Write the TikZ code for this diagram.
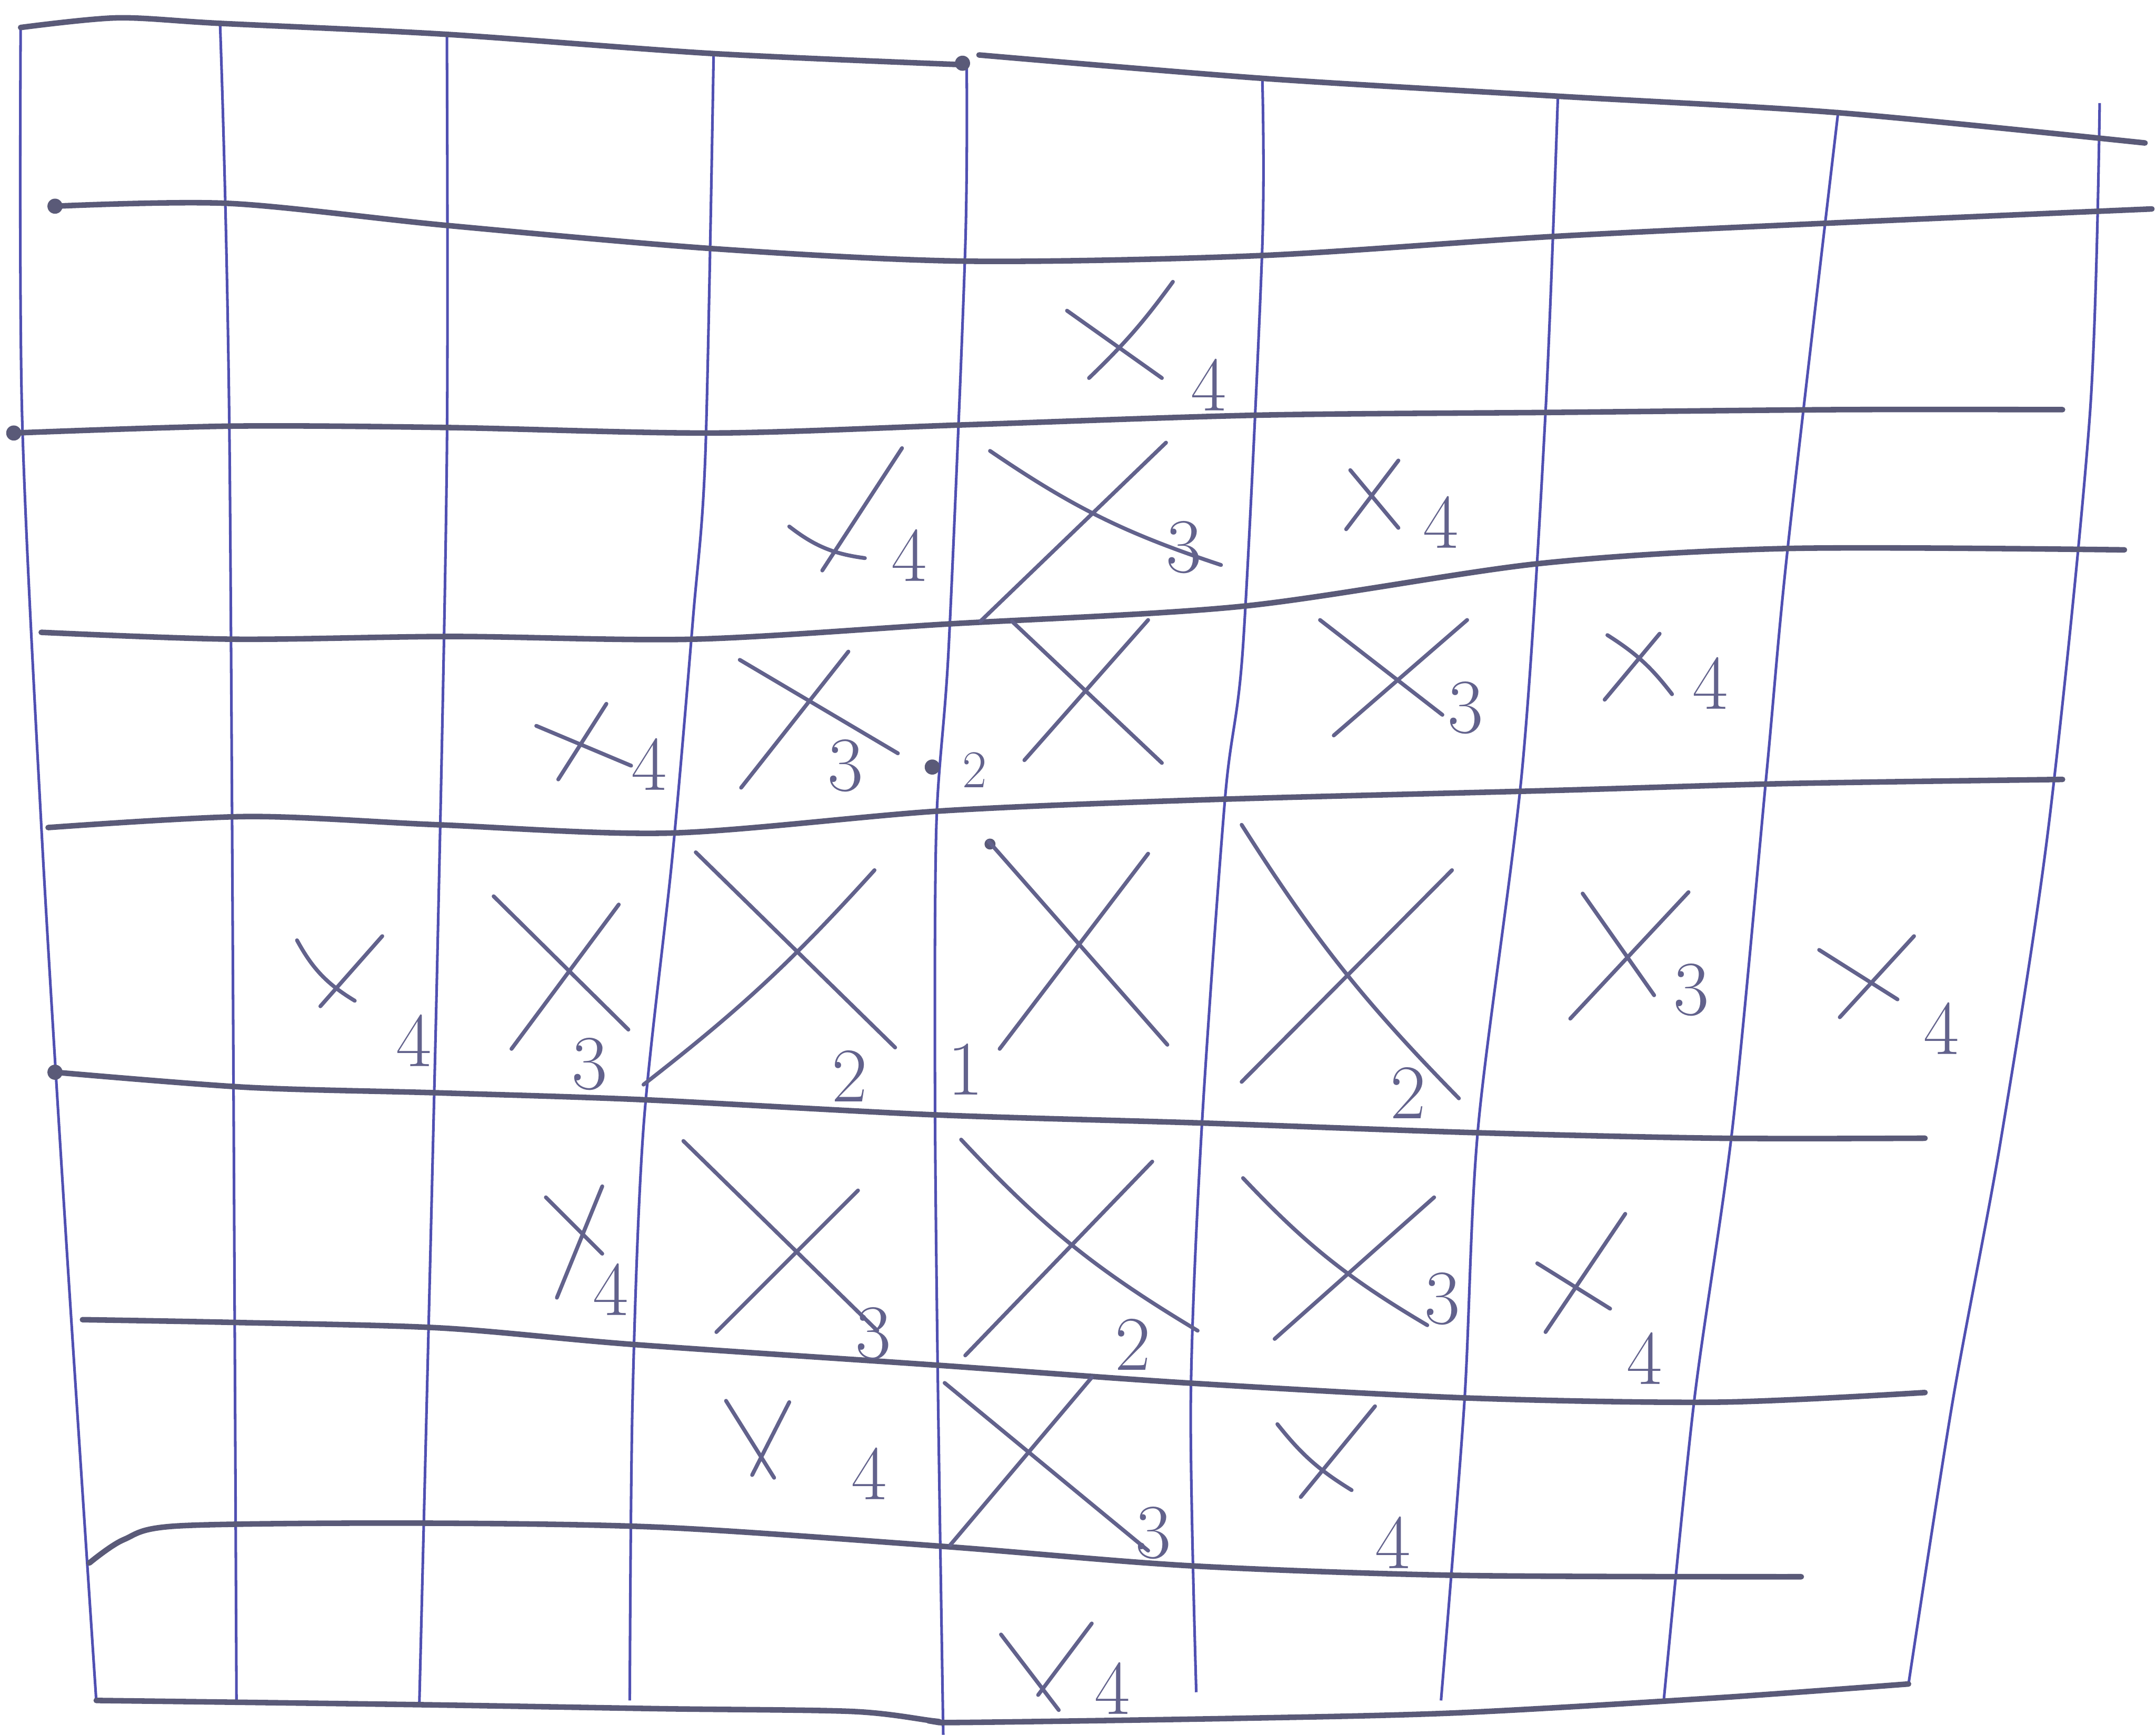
\documentclass[tikz,border=0pt]{standalone}
\usepackage{tikz}
\definecolor{gridblue}{HTML}{5050B2}
\definecolor{rowgrey}{HTML}{5A5A78}
\definecolor{crossink}{HTML}{62628C}

\begin{document}
\begin{tikzpicture}[x=0.2mm,y=-0.2mm,
  vline/.style={draw=gridblue,line width=1.1pt},
  hline/.style={draw=rowgrey,line width=2.3pt,line cap=round},
  cross/.style={draw=crossink,line width=1.6pt,line cap=round},
  lbl/.style={text=crossink,font=\fontsize{32}{32}\selectfont,inner sep=0pt},
  small/.style={lbl,font=\fontsize{22}{22}\selectfont},
  pdot/.style={fill=rowgrey,circle,inner sep=0pt,minimum size=2.2mm}]

  \fill[white] (0,0) rectangle (1568,1262);
  \useasboundingbox (0,0) rectangle (1568,1262);

  % columns
  \draw[vline] plot[smooth] coordinates {(15,20) (16,300) (30,600) (48,900) (70,1237)};
  \draw[vline] plot[smooth] coordinates {(160,16) (167,330) (172,1240)};
  \draw[vline] plot[smooth] coordinates {(325,24) (325,330) (318,700) (305,1238)};
  \draw[vline] plot[smooth] coordinates {(519,39) (513,330) (504,450) (489,623) (468,820) (460,1020) (458,1237)};
  \draw[vline] plot[smooth] coordinates {(703,45) (702,180) (690,470) (681,600) (680,800) (682,1000) (686,1262)};
  \draw[vline] plot[smooth] coordinates {(918,56) (918,180) (904,470) (891,580) (874,820) (866,1020) (870,1231)};
  \draw[vline] plot[smooth] coordinates {(1133,70) (1124,300) (1107,560) (1075,820) (1065,1020) (1048,1237)};
  \draw[vline] plot[smooth] coordinates {(1337,80) (1300,400) (1285,560) (1260,820) (1232,1020) (1210,1237)};
  \draw[vline] plot[smooth] coordinates {(1527,75) (1520,300) (1490,600) (1455,830) (1420,1020) (1388,1225)};

  % rows
  \draw[hline] plot[smooth] coordinates {(15,20) (85,13) (160,17) (325,25) (519,39) (698,47)};
  \draw[hline] plot[smooth] coordinates {(712,40) (918,57) (1133,70) (1337,82) (1560,104)};
  \draw[hline] plot[smooth] coordinates {(40,150) (167,148) (325,164) (520,181) (703,190) (915,186) (1130,172) (1337,162) (1565,152)};
  \draw[hline] plot[smooth] coordinates {(10,315) (167,310) (325,311) (519,315) (703,309) (916,302) (1130,300) (1337,298) (1500,298)};
  \draw[hline] plot[smooth] coordinates {(30,460) (170,465) (330,463) (504,465) (688,454) (904,441) (1119,410) (1300,399) (1545,400)};
  \draw[hline] plot[smooth] coordinates {(35,602) (180,594) (319,600) (488,606) (683,590) (870,582) (1130,575) (1300,570) (1500,567)};
  \draw[hline] plot[smooth] coordinates {(40,780) (180,791) (319,795) (468,800) (680,811) (876,817) (1074,824) (1250,828) (1400,828)};
  \draw[hline] plot[smooth] coordinates {(60,960) (170,962) (320,966) (460,978) (680,993) (863,1006) (1068,1017) (1250,1020) (1400,1013)};
  \draw[hline] plot[smooth] coordinates {(65,1137) (90,1120) (130,1110) (300,1108) (480,1111) (687,1125) (865,1139) (1060,1146) (1310,1147)};
  \draw[hline] plot[smooth] coordinates {(70,1237) (300,1240) (480,1243) (620,1245) (680,1252) (700,1253) (900,1250) (1060,1246) (1250,1235) (1388,1225)};

  \node[pdot] (d1) at (40,150) {};
  \node[pdot] (d2) at (10,315) {};
  \node[pdot] (d3) at (40,780) {};
  \node[pdot] (d4) at (700,46) {};
  \node[pdot] (d5) at (678,558) {};
  \node[pdot,minimum size=1.6mm] (d6) at (720,614) {};

  % crosses
  \draw[cross] (776,226) -- (845,275) (853,205) to[bend left=5] (792,275);
  \draw[cross] (656,326) -- (598,415) (574,383) to[bend right=15] (629,406);
  \draw[cross] (720,328) to[bend right=8] (888,411) (848,322) -- (713,452);
  \draw[cross] (1017,335) -- (979,385) (982,342) -- (1017,384);
  \draw[cross] (441,512) -- (406,567) (390,528) -- (459,557);
  \draw[cross] (538,480) -- (653,548) (617,474) -- (539,573);
  \draw[cross] (736,452) -- (845,555) (835,451) -- (745,553);
  \draw[cross] (960,451) -- (1049,520) (1067,451) -- (970,535);
  \draw[cross] (1169,462) to[bend left=10] (1216,505) (1207,461) -- (1167,509);
  \draw[cross] (216,684) to[bend right=15] (258,728) (278,681) -- (233,732);
  \draw[cross] (359,652) -- (457,749) (450,658) -- (372,763);
  \draw[cross] (506,620) -- (651,762) (636,633) to[bend left=5] (468,789);
  \draw[cross] (719,612) -- (849,760) (835,621) -- (727,763);
  \draw[cross] (903,600) to[bend right=6] (1061,799) (1056,633) -- (903,787);
  \draw[cross] (1151,650) -- (1203,724) (1228,649) -- (1142,741);
  \draw[cross] (1323,691) -- (1380,727) (1392,681) -- (1338,740);
  \draw[cross] (397,871) -- (438,912) (438,863) -- (405,944);
  \draw[cross] (497,830) -- (638,968) (624,866) -- (521,969);
  \draw[cross] (699,829) to[bend right=8] (871,968) (838,845) -- (702,986);
  \draw[cross] (904,857) to[bend right=8] (1038,964) (1043,871) -- (927,974);
  \draw[cross] (1118,919) -- (1171,952) (1182,883) -- (1124,969);
  \draw[cross] (528,1019) -- (563,1075) (574,1020) -- (547,1073);
  \draw[cross] (687,1006) -- (835,1128) (794,1002) -- (691,1124);
  \draw[cross] (929,1036) to[bend right=10] (983,1084) (1000,1023) -- (946,1089);
  \draw[cross] (728,1189) -- (770,1244) (794,1181) -- (755,1233);

  % distances
  \node[lbl] (n14) at (879,280) {4};
  \node[lbl] (n23) at (661,404) {4};
  \node[lbl] (n24) at (861,398) {3};
  \node[lbl] (n25) at (1048,380) {4};
  \node[lbl] (n32) at (472,556) {4};
  \node[lbl] (n33) at (615,557) {3};
  \node[small] (n34) at (709,560) {2};
  \node[lbl] (n35) at (1066,515) {3};
  \node[lbl] (n36) at (1244,497) {4};
  \node[lbl] (n41) at (301,757) {4};
  \node[lbl] (n42) at (429,774) {3};
  \node[lbl] (n43) at (618,783) {2};
  \node[lbl] (n44) at (702,778) {1};
  \node[lbl] (n45) at (1024,795) {2};
  \node[lbl] (n46) at (1230,720) {3};
  \node[lbl] (n47) at (1412,748) {4};
  \node[lbl] (n52) at (444,938) {4};
  \node[lbl] (n53) at (635,970) {3};
  \node[lbl] (n54) at (824,978) {2};
  \node[lbl] (n55) at (1049,945) {3};
  \node[lbl] (n56) at (1196,988) {4};
  \node[lbl] (n63) at (632,1072) {4};
  \node[lbl] (n64) at (839,1115) {3};
  \node[lbl] (n65) at (1013,1122) {4};
  \node[lbl] (n74) at (809,1228) {4};
\end{tikzpicture}
\end{document}
